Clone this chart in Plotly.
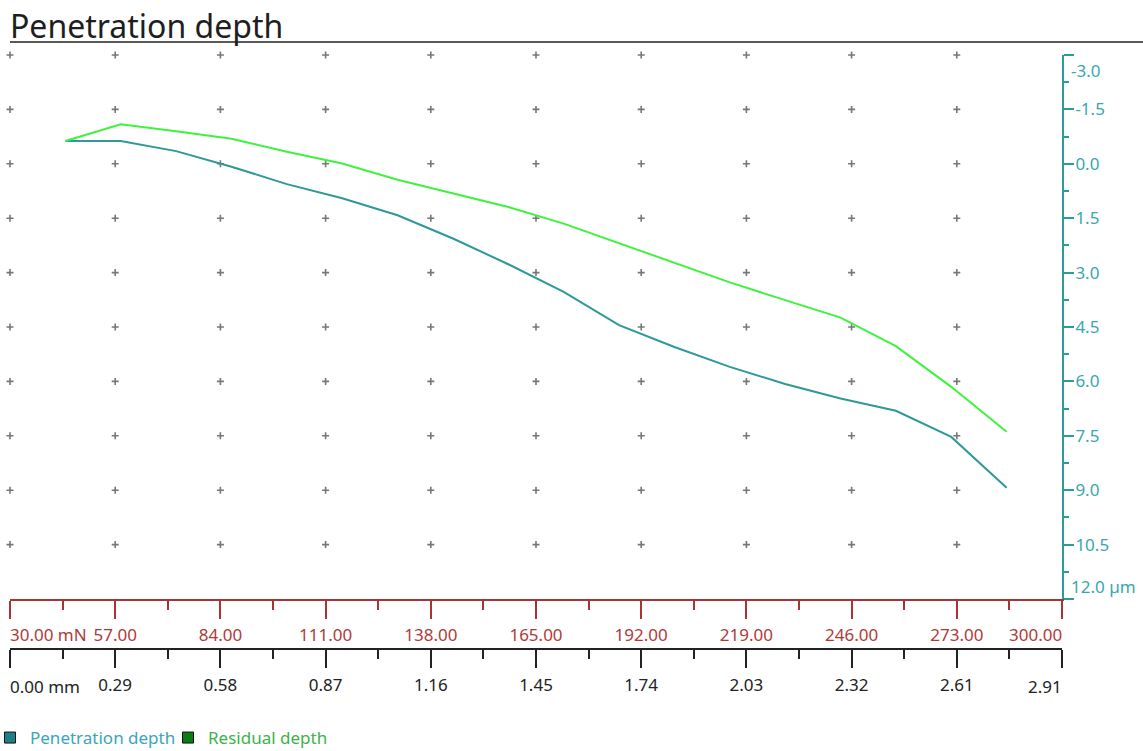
import plotly.graph_objects as go

# ---------------- data ----------------
load_mN = [30 + 270 * k / 19 for k in range(1, 19)]
penetration_um = [-0.63, -0.63, -0.35, 0.08, 0.56, 0.95, 1.42, 2.06, 2.77,
                  3.53, 4.45, 5.05, 5.60, 6.07, 6.47, 6.81, 7.53, 8.93]
residual_um = [-0.63, -1.09, -0.90, -0.69, -0.33, -0.01, 0.44, 0.82, 1.19,
               1.65, 2.19, 2.73, 3.27, 3.76, 4.24, 5.03, 6.15, 7.39]

load_ticks = [30, 57, 84, 111, 138, 165, 192, 219, 246, 273, 300]
load_labels = ["30.00 mN", "57.00", "84.00", "111.00", "138.00", "165.00",
               "192.00", "219.00", "246.00", "273.00", "300.00"]
dist_max = 2.905
dist_ticks = [dist_max * k / 10 for k in range(11)]
dist_labels = ["0.00 mm", "0.29", "0.58", "0.87", "1.16", "1.45", "1.74",
               "2.03", "2.32", "2.61", "2.91"]
depth_ticks = [-3.0, -1.5, 0.0, 1.5, 3.0, 4.5, 6.0, 7.5, 9.0, 10.5, 12.0]
depth_labels = ["-3.0", "-1.5", "0.0", "1.5", "3.0", "4.5", "6.0", "7.5",
                "9.0", "10.5", "12.0 µm"]

# ---------------- styles ----------------
FONT = "Noto Sans"
FS = 17
TEAL_LINE = "#2f9898"
GREEN_LINE = "#3ff23f"
RED_AX = "#a83434"
RED_TXT = "#b03a3a"
TEAL_AX = "#2a9c9c"
TEAL_TXT = "#39a7ad"

W, H = 1143, 751
PLOT_L, PLOT_R, PLOT_T, PLOT_B = 10, 1062, 55, 599   # pixels
ML = PLOT_L
MR = W - PLOT_R
MT = PLOT_T
MB = 0
paper_h = H - MT - MB
plot_w = W - ML - MR


def py(pix_y):
    """pixel row -> paper y fraction"""
    return (H - MB - pix_y) / paper_h


def px(pix_x):
    """pixel column -> paper x fraction"""
    return (pix_x - ML) / plot_w


ydom0 = py(PLOT_B)
x2_pos = py(649)

fig = go.Figure()

# dotted grid (small crosses at major tick intersections)
gx, gy = [], []
for yv in depth_ticks[:-1]:
    for xv in load_ticks[:-1]:
        gx.append(xv)
        gy.append(yv)
fig.add_trace(go.Scatter(
    x=gx, y=gy, mode="markers", showlegend=False, hoverinfo="skip", cliponaxis=False,
    marker=dict(symbol="cross-thin", size=5, line=dict(color="#777777", width=1.6)),
))

fig.add_trace(go.Scatter(
    x=load_mN, y=penetration_um, mode="lines", showlegend=False,
    line=dict(color=TEAL_LINE, width=2), name="Penetration depth",
))
fig.add_trace(go.Scatter(
    x=load_mN, y=residual_um, mode="lines", showlegend=False,
    line=dict(color=GREEN_LINE, width=2), name="Residual depth",
))

# legend entries (square swatches)
fig.add_trace(go.Scatter(
    x=[None], y=[None], mode="markers",
    name='<span style="color:#3aa6b8">Penetration depth</span>',
    marker=dict(symbol="square", size=11, color="#1c8088", line=dict(color="#111", width=1)),
))
fig.add_trace(go.Scatter(
    x=[None], y=[None], mode="markers",
    name='<span style="color:#3bb34a">Residual depth</span>',
    marker=dict(symbol="square", size=11, color="#0b7d10", line=dict(color="#111", width=1)),
))
# invisible trace to activate x2
fig.add_trace(go.Scatter(x=[0, dist_max], y=[None, None], xaxis="x2", yaxis="y",
                         mode="lines", showlegend=False, hoverinfo="skip"))

mid_load_text = [""] + load_labels[1:-1] + [""]
mid_dist_text = [""] + dist_labels[1:-1] + [""]
mid_depth_text = [""] + depth_labels[1:-1] + [""]

fig.update_layout(
    width=W, height=H,
    margin=dict(l=ML, r=MR, t=MT, b=MB, autoexpand=False),
    paper_bgcolor="white", plot_bgcolor="white",
    font=dict(family=FONT, size=FS, color="#222"),
    title=dict(text="Penetration depth", x=10 / W, xanchor="left", xref="container",
               y=1 - 27 / H, yanchor="middle", yref="container",
               font=dict(family=FONT, size=32, color="#1e1e1e")),
    xaxis=dict(
        domain=[0, 1], range=[30, 300], anchor="y", automargin=False,
        showgrid=False, zeroline=False,
        showline=True, linecolor=RED_AX, linewidth=2,
        ticks="outside", ticklen=18, tickwidth=1.5, tickcolor=RED_AX,
        tickmode="array", tickvals=load_ticks, ticktext=mid_load_text,
        tickfont=dict(color=RED_TXT, size=FS), ticklabelstandoff=2,
        minor=dict(tickmode="linear", tick0=30, dtick=13.5, ticks="outside",
                   ticklen=9, tickwidth=1.5, tickcolor=RED_AX, showgrid=False),
    ),
    xaxis2=dict(
        overlaying="x", anchor="free", position=x2_pos, side="bottom", automargin=False,
        range=[0, dist_max], showgrid=False, zeroline=False,
        showline=True, linecolor="#222", linewidth=2,
        ticks="outside", ticklen=18, tickwidth=1.5, tickcolor="#222",
        tickmode="array", tickvals=dist_ticks, ticktext=mid_dist_text,
        tickfont=dict(color="#222", size=FS), ticklabelstandoff=3,
        minor=dict(tickmode="linear", tick0=0, dtick=dist_max / 20, ticks="outside",
                   ticklen=9, tickwidth=1.5, tickcolor="#222", showgrid=False),
    ),
    yaxis=dict(
        domain=[ydom0, 1], range=[12, -3], side="right", anchor="x", automargin=False,
        showgrid=False, zeroline=False,
        showline=True, linecolor=TEAL_AX, linewidth=2,
        ticks="outside", ticklen=10, tickwidth=1.5, tickcolor=TEAL_AX,
        tickmode="array", tickvals=depth_ticks, ticktext=mid_depth_text,
        tickfont=dict(color=TEAL_TXT, size=FS), ticklabelstandoff=-2,
        minor=dict(tickmode="linear", tick0=-3, dtick=0.75, ticks="outside",
                   ticklen=5, tickwidth=1.5, tickcolor=TEAL_AX, showgrid=False),
    ),
    legend=dict(orientation="h", x=px(-10), xanchor="left", y=py(756),
                yanchor="bottom", font=dict(size=FS), bgcolor="rgba(0,0,0,0)",
                itemwidth=30, tracegroupgap=0, entrywidth=133, entrywidthmode="pixels"),
    showlegend=True,
)

# end tick labels kept inside the axis span
fig.add_annotation(x=load_ticks[0], xref="x", y=py(634), yref="paper",
                   text=load_labels[0], showarrow=False, xanchor="left", yanchor="middle",
                   xshift=-2, font=dict(color=RED_TXT, size=FS))
fig.add_annotation(x=load_ticks[-1], xref="x", y=py(634), yref="paper",
                   text=load_labels[-1], showarrow=False, xanchor="right", yanchor="middle",
                   xshift=2, font=dict(color=RED_TXT, size=FS))
fig.add_annotation(x=dist_ticks[0], xref="x2", y=py(686), yref="paper",
                   text=dist_labels[0], showarrow=False, xanchor="left", yanchor="middle",
                   xshift=-2, font=dict(color="#222", size=FS))
fig.add_annotation(x=dist_ticks[-1], xref="x2", y=py(686), yref="paper",
                   text=dist_labels[-1], showarrow=False, xanchor="right", yanchor="middle",
                   xshift=2, font=dict(color="#222", size=FS))
fig.add_annotation(x=1, xref="paper", y=depth_ticks[0], yref="y",
                   text=depth_labels[0], showarrow=False, xanchor="left", yanchor="top",
                   xshift=7, yshift=-2, font=dict(color=TEAL_TXT, size=FS))
fig.add_annotation(x=1, xref="paper", y=depth_ticks[-1], yref="y",
                   text=depth_labels[-1], showarrow=False, xanchor="left", yanchor="bottom",
                   xshift=7, yshift=-1, font=dict(color=TEAL_TXT, size=FS))

# title underline
fig.add_shape(type="line", xref="paper", yref="paper",
              x0=0, x1=px(W), y0=py(42), y1=py(42),
              line=dict(color="#5a5a5a", width=2))

# remove the browser's default 8px body margin so the figure fills the window
fig.write_html("out.html",
               config={"displayModeBar": False},
               post_script="document.body.style.margin='0px';"
                           "document.body.style.overflow='hidden';")
